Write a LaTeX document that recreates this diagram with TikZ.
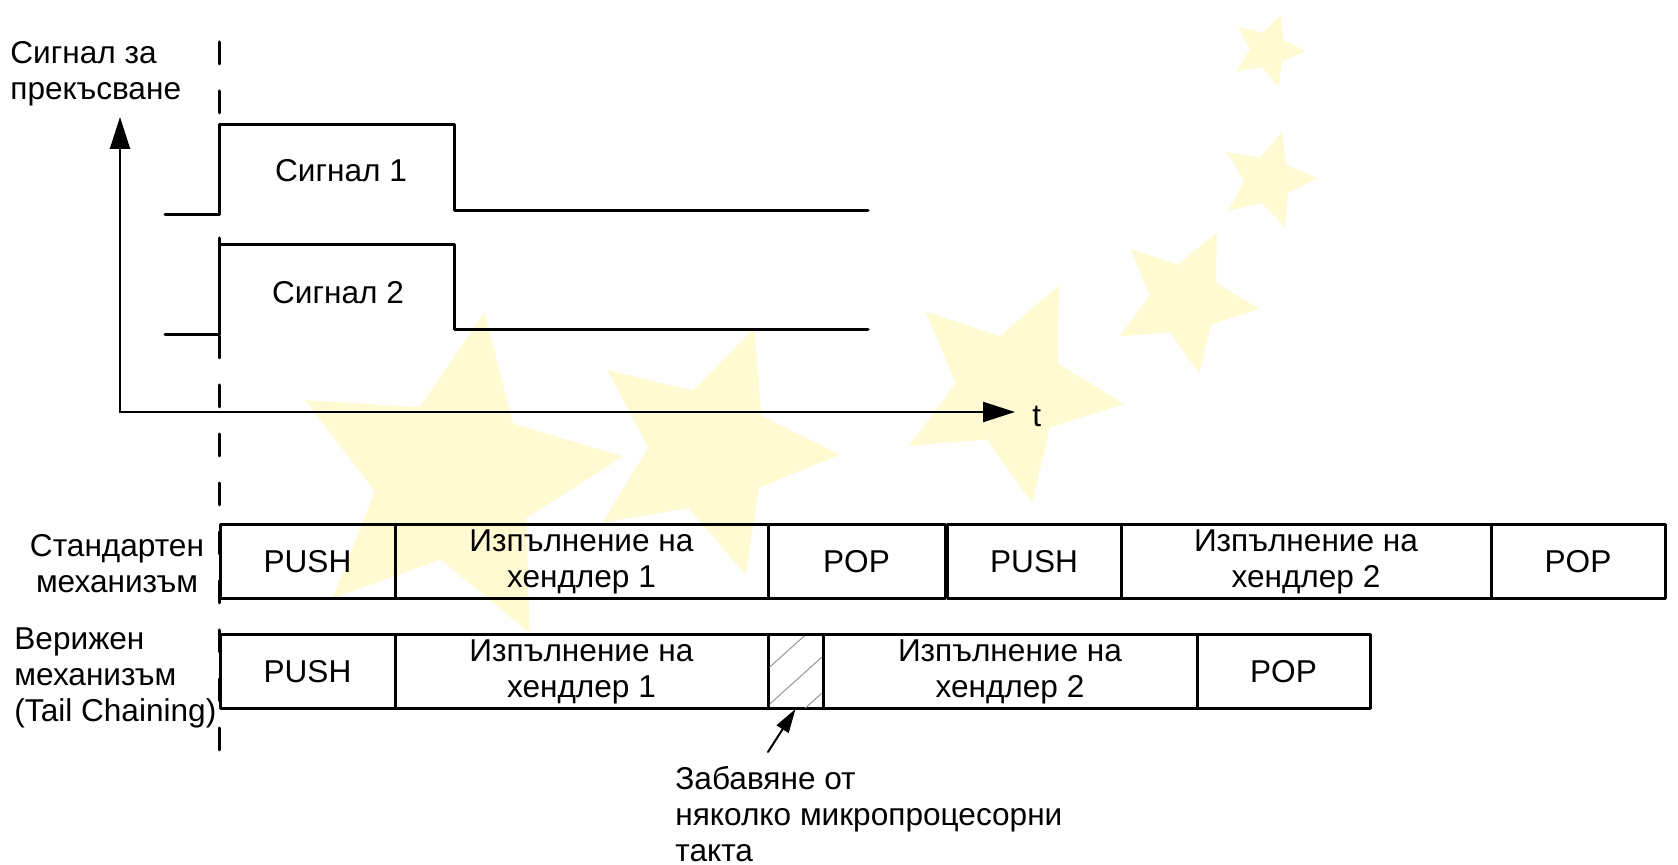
\documentclass[tikz,border=0pt]{standalone}
\usepackage{fontspec}
\setmainfont{Liberation Sans}
\usetikzlibrary{arrows.meta,positioning,shapes.geometric}
\definecolor{starfill}{RGB}{255,250,210}
\definecolor{hatchgray}{RGB}{150,150,150}

\begin{document}
\begin{tikzpicture}[line cap=round,line join=round,>={Triangle[length=16pt,width=10pt]},x=0.5pt,y=-0.5pt,
    font=\fontsize{15.8}{18}\selectfont,
    slot/.style={draw,line width=1.5pt,outer sep=0pt,inner sep=0pt,minimum height=37pt,align=center},
    wave/.style={line width=1.5pt},
    axis/.style={line width=1.2pt,->},
    wm/.style={star,star points=5,star point ratio=2.1,fill=starfill,inner sep=0pt}]
  \useasboundingbox (0,0) rectangle (1678,865);
  % watermark stars
  \foreach \sx/\sy/\sd/\sr [count=\i] in {455/480/340/-10,710/450/260/-20,1010/390/230/-25,1185/300/150/-25,1268/180/100/-16,1268/50/76/-20}
    \node[wm,minimum size=\sd*0.5pt,rotate=\sr] (star\i) at (\sx,\sy) {};
  % time marker
  \draw[line width=1.5pt,dash pattern=on 11pt off 13.5pt] (219,42) -- (219,773);
  % axes
  \coordinate (o) at (120,412);
  \coordinate (ytip) at (120,117);
  \coordinate (xtip) at (1015,412);
  \draw[axis] (o) -- (ytip);
  \draw[axis] (o) -- (xtip);
  \node[anchor=base west,inner sep=0pt] (t) at (1032,427) {t};
  \node[anchor=west,align=left,inner sep=0pt] (ylab) at (10,74) {Сигнал за\\прекъсване};
  % signals
  \draw[wave] (165,215) -- (219,215) -- (219,125) -- (454,125) -- (454,211) -- (868,211);
  \draw[wave] (165,335) -- (219,335) -- (219,245) -- (454,245) -- (454,330) -- (868,330);
  \node (sig1) at (341,171) {Сигнал 1};
  \node (sig2) at (338,293) {Сигнал 2};
  % standard mechanism
  \node[slot,minimum width=87.5pt,anchor=north west] (push1) at (220,525) {PUSH};
  \node[slot,minimum width=186.5pt,right=0pt of push1] (run1) {Изпълнение на\\хендлер 1};
  \node[slot,minimum width=88.5pt,right=0pt of run1] (pop1) {POP};
  \node[slot,minimum width=87pt,right=1pt of pop1] (push2) {PUSH};
  \node[slot,minimum width=185pt,right=0pt of push2] (run2) {Изпълнение на\\хендлер 2};
  \node[slot,minimum width=87pt,right=0pt of run2] (pop2) {POP};
  \node[align=center] (stdlab) at (117,564) {Стандартен\\механизъм};
  % tail chaining
  \node[slot,minimum width=87.5pt,anchor=north west] (tpush) at (220,635) {PUSH};
  \node[slot,minimum width=186.5pt,right=0pt of tpush] (trun1) {Изпълнение на\\хендлер 1};
  \node[slot,minimum width=27.5pt,right=0pt of trun1] (delay) {};
  \node[slot,minimum width=187pt,right=0pt of delay] (trun2) {Изпълнение на\\хендлер 2};
  \node[slot,minimum width=86.5pt,right=0pt of trun2] (tpop) {POP};
  \begin{scope}
    \clip ([shift={(1.5,1.5)}]delay.north west) rectangle ([shift={(-1.5,-1.5)}]delay.south east);
    \foreach \c in {665,702,738}
      \draw[hatchgray,line width=0.5pt] (760,\c+10.8) -- (830,\c-52.2);
  \end{scope}
  \node[anchor=west,align=left,inner sep=0pt] (chainlab) at (14,678) {Верижен\\механизъм\\(Tail Chaining)};
  % delay note
  \node[anchor=west,align=left,inner sep=0pt] (delaylab) at (675,814) {Забавяне от\\няколко микропроцесорни\\такта};
  \coordinate (dtail) at (768,752);
  \draw[line width=1pt,-{Triangle[length=12pt,width=7pt]}] (dtail) -- (delay.south);
\end{tikzpicture}
\end{document}
